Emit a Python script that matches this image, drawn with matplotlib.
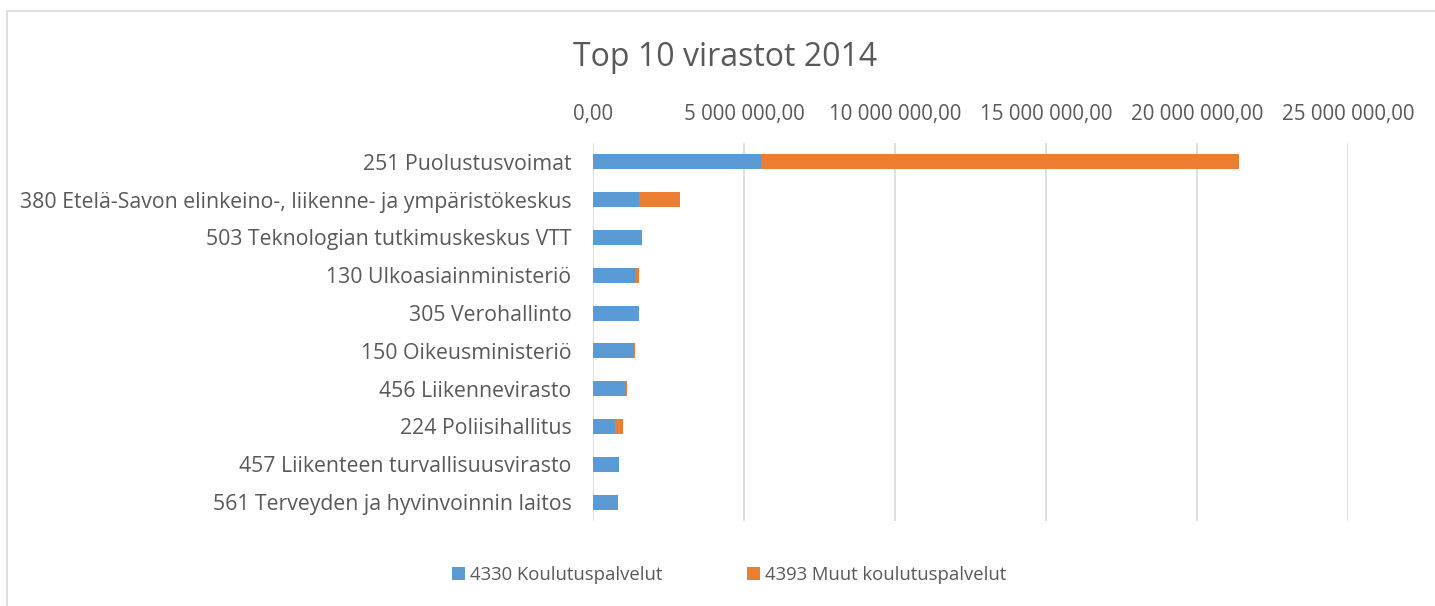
import matplotlib.pyplot as plt
from matplotlib.patches import Rectangle
from matplotlib.ticker import FuncFormatter

plt.rcParams['font.family'] = ['Open Sans', 'DejaVu Sans']

# Virastot (ylhäältä alas)
virastot = [
    "251 Puolustusvoimat",
    "380 Etelä-Savon elinkeino-, liikenne- ja ympäristökeskus",
    "503 Teknologian tutkimuskeskus VTT",
    "130 Ulkoasiainministeriö",
    "305 Verohallinto",
    "150 Oikeusministeriö",
    "456 Liikennevirasto",
    "224 Poliisihallitus",
    "457 Liikenteen turvallisuusvirasto",
    "561 Terveyden ja hyvinvoinnin laitos",
]
# euroa
koulutuspalvelut = [5560000, 1530000, 1620000, 1440000, 1530000,
                    1370000, 1100000, 720000, 850000, 820000]
muut_koulutuspalvelut = [15830000, 1360000, 0, 90000, 0,
                         20000, 30000, 260000, 0, 10000]
x_ticks = [0, 5000000, 10000000, 15000000, 20000000, 25000000]

sarja1 = "4330 Koulutuspalvelut"
sarja2 = "4393 Muut koulutuspalvelut"
blue = "#5B9BD5"
orange = "#ED7D31"
grey_txt = "#595959"

fig = plt.figure(figsize=(14.35, 6.06), dpi=100)
ax = fig.add_axes([593 / 1435, 85 / 606, 755 / 1435, 378 / 606])

# kehys
fig.patches.append(Rectangle((7 / 1435, -0.1), 1.2, (606 - 11) / 606 + 0.1,
                             transform=fig.transFigure, fill=False,
                             edgecolor="#d9d9d9", lw=1.2))

y = list(range(len(virastot)))
ax.barh(y, koulutuspalvelut, height=0.4, color=blue, label=sarja1, zorder=3)
ax.barh(y, muut_koulutuspalvelut, height=0.4, left=koulutuspalvelut,
        color=orange, label=sarja2, zorder=3)

ax.set_ylim(len(virastot) - 0.5, -0.5)
ax.set_yticks(y)
ax.set_yticklabels(virastot)
ax.set_xlim(0, 25000000)
ax.set_xticks(x_ticks)


def fmt(v, pos):
    s = f"{v:,.2f}"
    return s.replace(",", " ").replace(".", ",")


ax.xaxis.set_major_formatter(FuncFormatter(fmt))
ax.xaxis.tick_top()
ax.tick_params(axis="x", length=0, pad=13, labelsize=14.8, colors=grey_txt)
ax.tick_params(axis="y", length=0, pad=15.5, labelsize=15.3, colors=grey_txt)
ax.grid(axis="x", color="#d9d9d9", lw=1.2, zorder=0)
for s in ax.spines.values():
    s.set_visible(False)

fig.text(725 / 1435, 1 - 57 / 606, "Top 10 virastot 2014", ha="center",
         va="center", fontsize=23, color=grey_txt)

fig.legend(loc="center", bbox_to_anchor=(729 / 1435, 1 - 575 / 606), ncol=2,
           frameon=False, fontsize=13.3, labelcolor=grey_txt,
           handlelength=0.7, handleheight=0.7, handletextpad=0.25,
           columnspacing=4.6)

fig.savefig("out.png", dpi=100)
